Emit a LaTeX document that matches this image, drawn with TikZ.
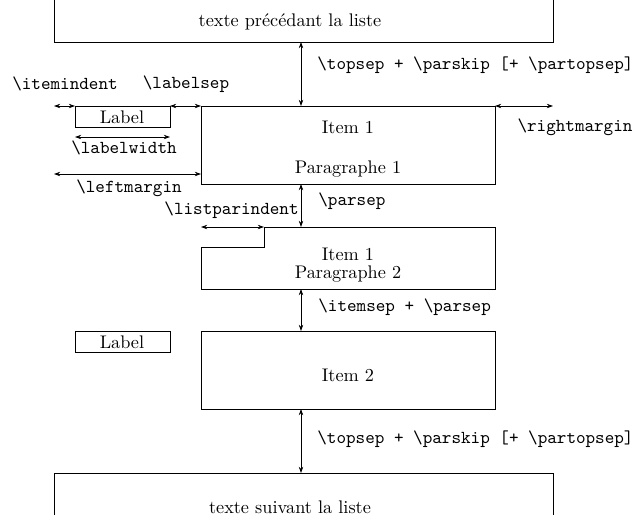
\documentclass[tikz,border=0pt]{standalone}
\usetikzlibrary{arrows.meta}
\begin{document}
\begin{tikzpicture}[x=0.548pt,y=-0.548pt,
  line width=0.45pt,
  dim/.style={{Stealth[length=3.4pt,width=2.4pt]}-{Stealth[length=3.4pt,width=2.4pt]}},
  rmtext/.style={font=\rmfamily, inner sep=0pt},
  tttext/.style={font=\ttfamily, inner sep=0pt},
  boxline/.style={draw, line width=0.5pt},
]
\useasboundingbox (0,0) rectangle (638,525);
% boxes
\draw[boxline] (54,0) -- (54,42) -- (553,42) -- (553,0);
\draw[boxline] (201,106) rectangle (495,184);
\draw[boxline] (264,227) -- (495,227) -- (495,289) -- (201,289) -- (201,247) -- (264,247) -- cycle;
\draw[boxline] (201,331) rectangle (495,409);
\draw[boxline] (54,515) -- (54,473) -- (553,473) -- (553,515);
\draw[boxline] (75,106) rectangle (170,127);
\draw[boxline] (75,331) rectangle (170,352);
% coordinates
\coordinate (prevB) at (301,42);
\coordinate (i1T) at (301,106);
\coordinate (i1B) at (301,184);
\coordinate (p2T) at (301,227);
\coordinate (p2B) at (301,289);
\coordinate (i2T) at (301,331);
\coordinate (i2B) at (301,409);
\coordinate (nextT) at (301,473);
\coordinate (iiL) at (54,106);
\coordinate (iiR) at (75,106);
\coordinate (lsL) at (170,106);
\coordinate (lsR) at (201,106);
\coordinate (lwL) at (75,137);
\coordinate (lwR) at (170,137);
\coordinate (lmL) at (54,174);
\coordinate (lmR) at (201,174);
\coordinate (rmL) at (495,106);
\coordinate (rmR) at (553,106);
\coordinate (lpL) at (201,227);
\coordinate (lpR) at (264,227);
% dimension arrows
\draw[dim] (prevB) -- (i1T);
\draw[dim] (i1B) -- (p2T);
\draw[dim] (p2B) -- (i2T);
\draw[dim] (i2B) -- (nextT);
\draw[dim] (iiL) -- (iiR);
\draw[dim] (lsL) -- (lsR);
\draw[dim] (lwL) -- (lwR);
\draw[dim] (lmL) -- (lmR);
\draw[dim] (rmL) -- (rmR);
\draw[dim] (lpL) -- (lpR);
% texts
\node[rmtext] (prev) at (290,22) {texte précédant la liste};
\node[rmtext] (next) at (290,507) {texte suivant la liste};
\node[rmtext] (lab1) at (122,117) {Label};
\node[rmtext] (lab2) at (122,342) {Label};
\node[rmtext] (it1) at (348,127) {Item 1};
\node[rmtext] (par1) at (348,169) {Paragraphe 1};
\node[rmtext] (it1b) at (348,254) {Item 1};
\node[rmtext] (par2) at (348,274) {Paragraphe 2};
\node[rmtext] (it2) at (348,375) {Item 2};
\node[tttext, anchor=west] (ts1) at (317,65) {\textbackslash topsep + \textbackslash parskip [+ \textbackslash partopsep]};
\node[tttext, anchor=west] (ts2) at (317,439) {\textbackslash topsep + \textbackslash parskip [+ \textbackslash partopsep]};
\node[tttext, anchor=west] (ps) at (318,201) {\textbackslash parsep};
\node[tttext, anchor=west] (is) at (318,307) {\textbackslash itemsep + \textbackslash parsep};
\node[tttext] (ii) at (65,84) {\textbackslash itemindent};
\node[tttext] (ls) at (186,84) {\textbackslash labelsep};
\node[tttext] (lw) at (124,148) {\textbackslash labelwidth};
\node[tttext] (lm) at (129,188) {\textbackslash leftmargin};
\node[tttext] (rm) at (575,127) {\textbackslash rightmargin};
\node[tttext, anchor=east] (lp) at (299,210) {\textbackslash listparindent};
\end{tikzpicture}
\end{document}
